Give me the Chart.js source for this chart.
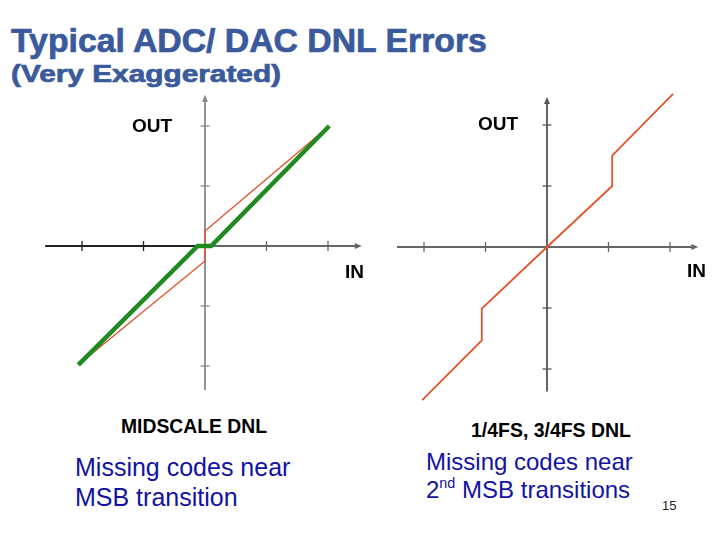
<!DOCTYPE html>
<html>
<head>
<meta charset="utf-8">
<script src="https://cdn.jsdelivr.net/npm/chart.js@4.4.1/dist/chart.umd.min.js"></script>
<style>
  html, body { margin: 0; padding: 0; background: #fff; }
  #slide { position: relative; width: 720px; height: 540px; overflow: hidden;
           font-family: "Liberation Sans", Arial, sans-serif; }
  .t { position: absolute; white-space: nowrap; line-height: 1; transform-origin: 0 0; }
  .head { color: #3a5a9c; font-weight: bold; -webkit-text-stroke: 0.7px #3a5a9c; }
  .lbl { color: #000; font-weight: bold; }
  .note { color: #1212a4; }
  .plot { position: absolute; }
  sup { font-size: 60%; line-height: 0; position: relative; top: -0.1em; vertical-align: super; }
</style>
</head>
<body>
<div id="slide">
  <div class="t head" style="left:11px;top:24px;font-size:33px" data-w="476">Typical ADC/ DAC DNL Errors</div>
  <div class="t head" style="left:11px;top:62px;font-size:24px" data-w="270">(Very Exaggerated)</div>

  <canvas id="mid" class="plot" width="330" height="310" style="left:40px;top:91px"></canvas>
  <canvas id="quarter" class="plot" width="330" height="320" style="left:382px;top:87px"></canvas>

  <div class="t lbl" style="left:132px;top:116px;font-size:19px">OUT</div>
  <div class="t lbl" style="left:345px;top:262px;font-size:19px">IN</div>
  <div class="t lbl" style="left:478px;top:114px;font-size:19px">OUT</div>
  <div class="t lbl" style="left:687px;top:261px;font-size:19px">IN</div>

  <div class="t lbl" style="left:121px;top:415px;font-size:21px" data-w="146">MIDSCALE DNL</div>
  <div class="t lbl" style="left:471px;top:419px;font-size:21px" data-w="160">1/4FS, 3/4FS DNL</div>

  <div class="t note" style="left:75px;top:455px;font-size:25px">Missing codes near</div>
  <div class="t note" style="left:75px;top:485px;font-size:25px">MSB transition</div>
  <div class="t note" style="left:426px;top:450px;font-size:24px">Missing codes near</div>
  <div class="t note" style="left:426px;top:478px;font-size:24px">2<sup>nd</sup> MSB transitions</div>
  <div class="t" style="left:662px;top:499px;font-size:13px;color:#222">15</div>
</div>

<script>
// midscale DNL (left plot)
const midGreenIn  = [-2.06, -0.12, 0.10, 2.02];
const midGreenOut = [-1.98,  0.00, 0.00, 2.00];
const midRedIn    = [-2.06,  0.00, 0.00, 2.02];
const midRedOut   = [-1.98, -0.25, 0.25, 2.00];

// 1/4 FS, 3/4 FS DNL (right plot)
const quarterIn  = [-2.03, -1.06, -1.06, 0, 1.06, 1.06, 2.05];
const quarterOut = [-2.51, -1.53, -1.01, 0, 1.00, 1.50, 2.51];

const tickValues = [-2, -1, 1, 2];

function toPoints(xs, ys) {
  return xs.map((x, i) => ({ x: x, y: ys[i] }));
}

// axes drawn through the origin, with crossing tick marks and arrow heads
const originAxes = {
  id: "originAxes",
  beforeDatasetsDraw(chart, args, opts) {
    const ctx = chart.ctx;
    const sx = chart.scales.x, sy = chart.scales.y;
    const x0 = sx.getPixelForValue(0), y0 = sy.getPixelForValue(0);
    const xa = sx.getPixelForValue(opts.xSpan[0]), xb = sx.getPixelForValue(opts.xSpan[1]);
    const ya = sy.getPixelForValue(opts.ySpan[0]), yb = sy.getPixelForValue(opts.ySpan[1]);
    ctx.save();
    ctx.lineWidth = opts.width;

    // x axis
    ctx.strokeStyle = opts.xLeftColor;
    ctx.beginPath(); ctx.moveTo(xa, y0); ctx.lineTo(x0, y0); ctx.stroke();
    ctx.strokeStyle = opts.xColor;
    ctx.beginPath(); ctx.moveTo(x0, y0); ctx.lineTo(xb - 4, y0); ctx.stroke();
    tickValues.forEach(v => {
      const px = sx.getPixelForValue(v);
      ctx.strokeStyle = v < 0 ? opts.xLeftColor : opts.xColor;
      ctx.lineWidth = 1.3;
      ctx.beginPath(); ctx.moveTo(px, y0 - 5); ctx.lineTo(px, y0 + 5); ctx.stroke();
    });
    ctx.fillStyle = opts.xColor;
    ctx.beginPath(); ctx.moveTo(xb, y0); ctx.lineTo(xb - 7, y0 - 3); ctx.lineTo(xb - 7, y0 + 3); ctx.closePath(); ctx.fill();

    // y axis
    ctx.lineWidth = opts.width;
    ctx.strokeStyle = opts.yColor;
    ctx.beginPath(); ctx.moveTo(x0, ya); ctx.lineTo(x0, yb + 4); ctx.stroke();
    ctx.lineWidth = 1.3;
    tickValues.forEach(v => {
      const py = sy.getPixelForValue(v);
      ctx.beginPath(); ctx.moveTo(x0 - 4.5, py); ctx.lineTo(x0 + 4.5, py); ctx.stroke();
    });
    ctx.fillStyle = opts.yColor;
    ctx.beginPath(); ctx.moveTo(x0, yb); ctx.lineTo(x0 - 3, yb + 7); ctx.lineTo(x0 + 3, yb + 7); ctx.closePath(); ctx.fill();
    ctx.restore();
  }
};

function makePlot(id, datasets, xMax, yMax, axisOpts) {
  return new Chart(document.getElementById(id), {
    type: "scatter",
    data: { datasets: datasets },
    options: {
      responsive: false,
      animation: false,
      layout: { padding: 0 },
      elements: { point: { radius: 0, hoverRadius: 0 } },
      plugins: { legend: { display: false }, tooltip: { enabled: false }, originAxes: axisOpts },
      scales: {
        x: { type: "linear", display: false, min: -xMax, max: xMax },
        y: { type: "linear", display: false, min: -yMax, max: yMax }
      }
    },
    plugins: [originAxes]
  });
}

makePlot("mid", [
  { data: toPoints(midGreenIn, midGreenOut), showLine: true, borderColor: "#1f8a1f",
    borderWidth: 4.5, clip: false },
  { data: toPoints(midRedIn, midRedOut), showLine: true, borderColor: "#e0542c",
    borderWidth: 1.4, clip: false }
], 165 / 61.5, 155 / 60, {
  xSpan: [-2.6, 2.55], ySpan: [-2.40, 2.52], width: 1.8,
  xLeftColor: "#222", xColor: "#666", yColor: "#888"
});

makePlot("quarter", [
  { data: toPoints(quarterIn, quarterOut), showLine: true, borderColor: "#e2542c",
    borderWidth: 1.8, clip: false }
], 165 / 61.5, 160 / 61, {
  xSpan: [-2.44, 2.46], ySpan: [-2.37, 2.46], width: 1.8,
  xLeftColor: "#666", xColor: "#666", yColor: "#555"
});

// squeeze or stretch a few headings to the widths seen on the slide
document.querySelectorAll("[data-w]").forEach(el => {
  const w = el.getBoundingClientRect().width;
  el.style.transform = "scaleX(" + (+el.dataset.w / w).toFixed(3) + ")";
});
</script>
</body>
</html>
